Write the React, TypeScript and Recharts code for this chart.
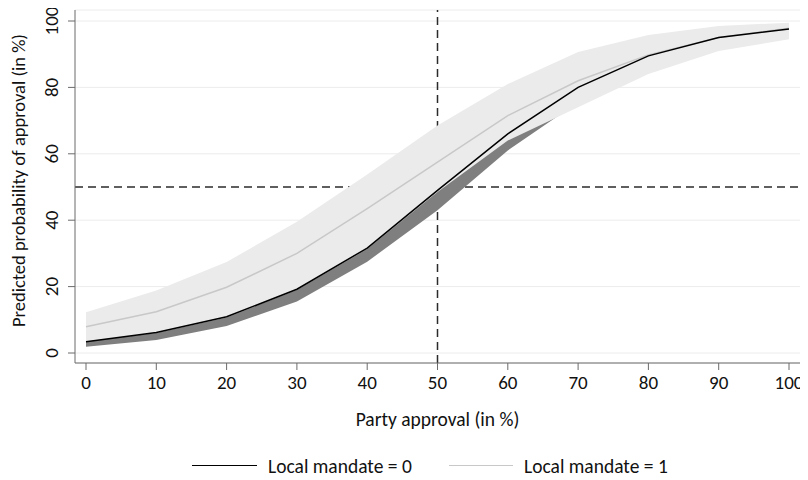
import React from 'react';
import {
  ComposedChart,
  Area,
  Line,
  XAxis,
  YAxis,
  CartesianGrid,
  ReferenceLine,
  Legend,
  Label,
} from 'recharts';

const FONT = 'Carlito, Lato, "Open Sans", sans-serif';

const approval = [0, 10, 20, 30, 40, 50, 60, 70, 80, 90, 100];
const estimate0 = [3.4, 6.2, 10.9, 19.2, 31.6, 49, 66, 80, 89.5, 95, 97.6];
const lower0 = [1.9, 3.9, 8.1, 15.5, 27.5, 43, 61, 75.5, 87, 93.5, 96.5];
const upper0 = [5.5, 8.8, 14, 23, 36, 55, 70.5, 84, 92, 96.3, 98.5];
const estimate1 = [7.9, 12.4, 19.8, 30, 43.5, 57.5, 71.5, 82, 89.8, 95, 97.8];
const lower1 = [3.5, 6.0, 10.7, 19.0, 31.3, 48.5, 64, 74, 84, 91, 94.5];
const upper1 = [12.3, 18.8, 27.4, 39.5, 53.8, 68.5, 81, 90.7, 95.8, 98.5, 99.5];

const X_TICKS = [0, 10, 20, 30, 40, 50, 60, 70, 80, 90, 100];
const Y_TICKS = [0, 20, 40, 60, 80, 100];
const SERIES_NAMES = ['Local mandate = 0', 'Local mandate = 1'];
const X_TITLE = 'Party approval (in %)';
const Y_TITLE = 'Predicted probability of approval (in %)';

const TICK_SIZE = 19;
const TITLE_SIZE = 19.5;
const Y_TITLE_SIZE = 18.5;

const rows = approval.map((x, i) => ({
  x,
  est0: estimate0[i],
  est1: estimate1[i],
  band0: [lower0[i], upper0[i]],
  band1: [lower1[i], upper1[i]],
}));

const YTick = (props: any) => {
  const { x, y, payload } = props;
  const cx = x - 14.5;
  return (
    <text
      x={cx}
      y={y}
      transform={`rotate(-90, ${cx}, ${y})`}
      textAnchor="middle"
      dominantBaseline="central"
      fill="#111"
      fontSize={TICK_SIZE}
      fontFamily={FONT}
    >
      {payload.value}
    </text>
  );
};

const YTitle = (props: any) => {
  const { viewBox } = props;
  const cy = viewBox.y + viewBox.height / 2 - 6;
  const cx = 10;
  return (
    <text
      x={cx}
      y={cy}
      transform={`rotate(-90, ${cx}, ${cy})`}
      textAnchor="middle"
      dominantBaseline="central"
      fill="#111"
      fontSize={Y_TITLE_SIZE}
      fontFamily={FONT}
    >
      {Y_TITLE}
    </text>
  );
};

const renderLegend = () => (
  <div style={{ position: 'relative', width: 800, height: 24, fontFamily: FONT, fontSize: TITLE_SIZE, color: '#111' }}>
    <div style={{ position: 'absolute', left: 184, top: 11, width: 65, height: 0, borderTop: '1.5px solid #000' }} />
    <div style={{ position: 'absolute', left: 260, top: 0, lineHeight: '24px', whiteSpace: 'nowrap' }}>{SERIES_NAMES[0]}</div>
    <div style={{ position: 'absolute', left: 441, top: 11, width: 64, height: 0, borderTop: '1.5px solid #c8c8c8' }} />
    <div style={{ position: 'absolute', left: 516, top: 0, lineHeight: '24px', whiteSpace: 'nowrap' }}>{SERIES_NAMES[1]}</div>
  </div>
);

export default function App() {
  return (
    <ComposedChart
      width={800}
      height={472}
      data={rows}
      margin={{ top: 2, right: 8, left: 0, bottom: 52 }}
      style={{ fontFamily: FONT }}
    >
      <CartesianGrid horizontal vertical={false} stroke="#ececec" strokeWidth={1} />
      <ReferenceLine x={50} stroke="#2b2b2b" strokeWidth={1.5} strokeDasharray="8 5" zIndex={0} />
      <ReferenceLine y={50} stroke="#2b2b2b" strokeWidth={1.5} strokeDasharray="8 5" zIndex={0} />
      <Area
        dataKey="band0"
        type="linear"
        stroke="none"
        fill="#7f7f7f"
        fillOpacity={1}
        isAnimationActive={false}
        activeDot={false}
        zIndex={100}
      />
      <Area
        dataKey="band1"
        type="linear"
        stroke="none"
        fill="#ebebeb"
        fillOpacity={1}
        isAnimationActive={false}
        activeDot={false}
        zIndex={100}
      />
      <Line
        dataKey="est1"
        type="linear"
        stroke="#c8c8c8"
        strokeWidth={1.5}
        dot={false}
        activeDot={false}
        isAnimationActive={false}
        zIndex={400}
      />
      <Line
        dataKey="est0"
        type="linear"
        stroke="#000000"
        strokeWidth={1.5}
        dot={false}
        activeDot={false}
        isAnimationActive={false}
        zIndex={400}
      />
      <XAxis
        type="number"
        dataKey="x"
        domain={[0, 100]}
        ticks={X_TICKS}
        padding={{ left: 11, right: 11 }}
        height={65}
        tickSize={7}
        tickMargin={6}
        stroke="#6b6b6b"
        tick={{ fill: '#111', fontSize: TICK_SIZE, fontFamily: FONT }}
        label={{ value: X_TITLE, position: 'insideBottom', offset: 2, fill: '#111', fontSize: TITLE_SIZE, fontFamily: FONT }}
      />
      <YAxis
        type="number"
        domain={[0, 100]}
        ticks={Y_TICKS}
        padding={{ top: 11, bottom: 10 }}
        width={67}
        tickSize={7}
        stroke="#6b6b6b"
        tick={<YTick />}
      >
        <Label content={<YTitle />} />
      </YAxis>
      <Legend
        layout="horizontal"
        verticalAlign="middle"
        align="center"
        content={renderLegend}
        wrapperStyle={{ position: 'absolute', top: 446, left: 0, width: 800, height: 24 }}
      />
    </ComposedChart>
  );
}
